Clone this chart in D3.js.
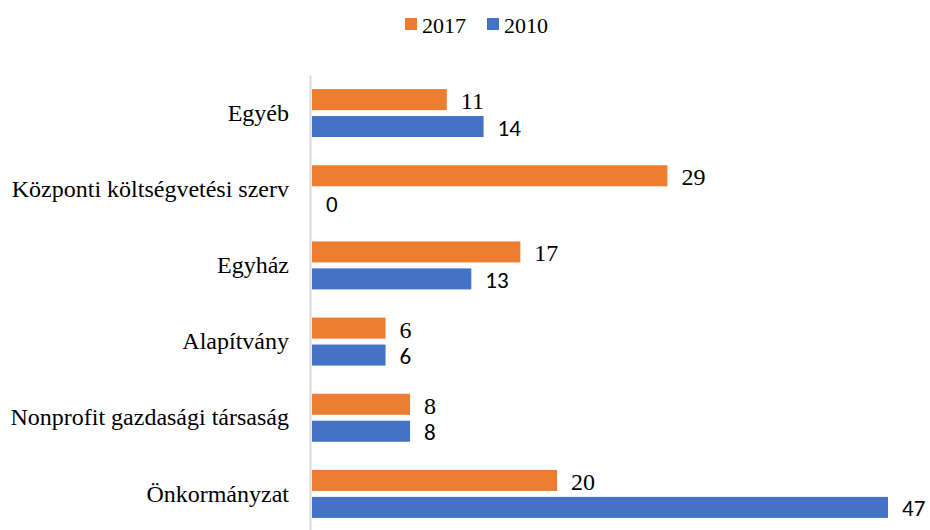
<!DOCTYPE html>
<html>
<head>
<meta charset="utf-8">
<script src="https://cdn.jsdelivr.net/npm/d3@7"></script>
<style>
  body { margin: 0; background: #fff; }
  svg { display: block; }
</style>
</head>
<body>
<svg width="930" height="530"></svg>
<script>
// data
const categories = ["Egyéb", "Központi költségvetési szerv", "Egyház", "Alapítvány", "Nonprofit gazdasági társaság", "Önkormányzat"];
const series = ["2017", "2010"];
const values2017 = [11, 29, 17, 6, 8, 20];
const values2010 = [14, 0, 13, 6, 8, 47];
const colors = ["#ED7D31", "#4472C4"];

const serif = "Liberation Serif, Times New Roman, serif";
const sans = "Carlito, Lato, sans-serif";

const svg = d3.select("svg"),
    margin = { top: 75, right: 43, bottom: -2, left: 311 },
    width = +svg.attr("width") - margin.left - margin.right,
    height = +svg.attr("height") - margin.top - margin.bottom,
    g = svg.append("g").attr("transform", `translate(${margin.left},${margin.top})`);

const rows = categories.map((c, i) => ({ cat: c, vals: [values2017[i], values2010[i]] }));

const y = d3.scaleBand().domain(categories).range([0, height]).paddingInner(0).paddingOuter(0);
const y1 = d3.scaleBand().domain(series).range([y.bandwidth() / 2 - 24, y.bandwidth() / 2 + 24]).paddingInner(0.22);
const x = d3.scaleLinear().domain([0, 47]).range([0, 576]);

// category axis
const yAxis = g.append("g").call(d3.axisLeft(y).tickSize(0).tickPadding(22));
yAxis.select(".domain").attr("stroke", "#d9d9d9").attr("stroke-width", 2).attr("transform", "translate(-1,0)");
yAxis.selectAll("text")
    .style("font-family", serif)
    .style("font-size", "24px")
    .attr("fill", "#000");

const groups = g.selectAll(".grp")
    .data(rows)
    .enter().append("g")
    .attr("class", "grp")
    .attr("transform", d => `translate(0,${y(d.cat)})`);

groups.selectAll("rect")
    .data(d => d.vals.map((v, j) => ({ s: series[j], v, j })))
    .enter().append("rect")
    .attr("x", 1)
    .attr("y", d => y1(d.s))
    .attr("width", d => x(d.v))
    .attr("height", y1.bandwidth())
    .attr("fill", d => colors[d.j]);

groups.selectAll("text.val")
    .data(d => d.vals.map((v, j) => ({ s: series[j], v, j })))
    .enter().append("text")
    .attr("class", "val")
    .attr("x", d => x(d.v) + 15)
    .attr("y", d => y1(d.s) + y1.bandwidth() / 2 + 1)
    .attr("dy", "0.35em")
    .style("font-family", d => d.j === 0 ? serif : sans)
    .style("font-size", d => d.j === 0 ? "24px" : "23px")
    .attr("fill", "#000")
    .text(d => d.v);

// legend
const legend = svg.append("g").attr("transform", "translate(405,24)");
const items = [{ s: series[0], x: 0 }, { s: series[1], x: 82 }];
items.forEach((it, i) => {
    legend.append("rect").attr("x", it.x).attr("y", -6).attr("width", 12).attr("height", 12).attr("fill", colors[i]);
    legend.append("text").attr("x", it.x + 17).attr("y", 1).attr("dy", "0.35em")
        .style("font-family", serif).style("font-size", "22px").attr("fill", "#000").text(it.s);
});
</script>
</body>
</html>
